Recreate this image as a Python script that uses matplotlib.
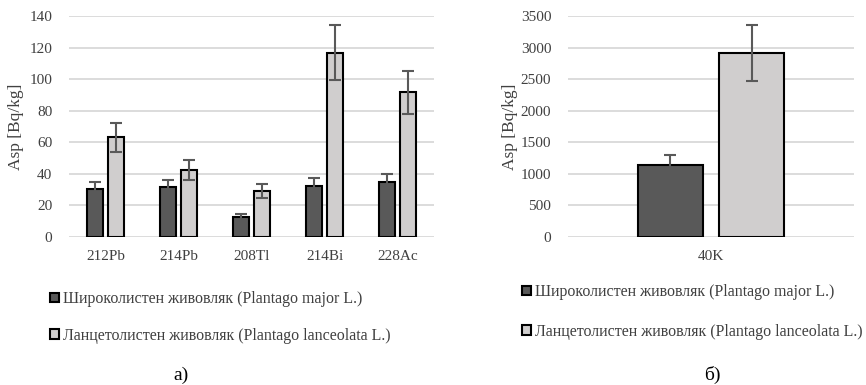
import matplotlib
matplotlib.use('Agg')
import matplotlib.pyplot as plt
import numpy as np
from matplotlib.patches import Patch

plt.rcParams['font.family'] = ['Liberation Serif', 'DejaVu Serif']
plt.rcParams['font.size'] = 11

# activity concentrations, Bq/kg
nuclides = ['212Pb', '214Pb', '208Tl', '214Bi', '228Ac']
major = [30.2, 31.5, 12.9, 32.3, 34.8]
major_err = [4.4, 4.8, 1.9, 4.9, 5.3]
lanceolata = [63.1, 42.4, 29.3, 116.8, 91.6]
lanceolata_err = [9.4, 6.4, 4.4, 17.6, 13.7]

k_label = ['40K']
k_major = [1135]
k_major_err = [165]
k_lanceolata = [2915]
k_lanceolata_err = [440]

names = ['Широколистен живовляк (Plantago major L.)',
         'Ланцетолистен живовляк (Plantago lanceolata L.)']
dark = '#595959'
light = '#d0cece'
grid_c = '#d9d9d9'
err_c = '#595959'
txt_c = '#404040'

width = 0.225
off = 0.142

fig = plt.figure(figsize=(8.66, 3.85), dpi=100)
ax1 = fig.add_axes([69/866, 1 - 237/385, 365/866, 221/385])
ax2 = fig.add_axes([568/866, 1 - 237/385, 286/866, 221/385])


def draw(ax, labels, a, a_err, b, b_err, ymax, step):
    x = np.arange(len(labels))
    ekw = dict(ecolor=err_c, elinewidth=1.5, capsize=4.5, capthick=1.5)
    ax.bar(x - off, a, width, yerr=a_err, color=dark, edgecolor='black',
           linewidth=1.5, error_kw=ekw, zorder=3)
    ax.bar(x + off, b, width, yerr=b_err, color=light, edgecolor='black',
           linewidth=1.5, error_kw=ekw, zorder=3)
    ax.set_xlim(-0.5, len(labels) - 0.5)
    ax.set_ylim(0, ymax)
    ax.set_yticks(np.arange(0, ymax + 1, step))
    ax.set_xticks(x)
    ax.set_xticklabels(labels)
    ax.yaxis.grid(True, color=grid_c, linewidth=1.3, zorder=0)
    ax.set_axisbelow(True)
    for s in ax.spines.values():
        s.set_visible(False)
    ax.tick_params(axis='both', length=0, colors=txt_c)
    ax.tick_params(axis='x', pad=9)
    ax.tick_params(axis='y', pad=12)
    ax.set_ylabel('Asp [Bq/kg]', color=txt_c, fontsize=12.5)


draw(ax1, nuclides, major, major_err, lanceolata, lanceolata_err, 140, 20)
draw(ax2, k_label, k_major, k_major_err, k_lanceolata, k_lanceolata_err, 3500, 500)
ax1.yaxis.set_label_coords(-0.123, 0.5)
ax2.yaxis.set_label_coords(-0.175, 0.5)

handles = [Patch(facecolor=dark, edgecolor='black', linewidth=1.5),
           Patch(facecolor=light, edgecolor='black', linewidth=1.5)]
leg_kw = dict(loc='upper left', frameon=False, borderpad=0, borderaxespad=0,
              handlelength=0.55, handleheight=0.55, handletextpad=0.25,
              fontsize=11.5, labelcolor=txt_c)
fig.legend(handles, names, bbox_to_anchor=(50/866, 1 - 291/385),
           labelspacing=1.3, **leg_kw)
fig.legend(handles, names, bbox_to_anchor=(522/866, 1 - 284/385),
           labelspacing=1.5, **leg_kw)

fig.text(181/866, 1 - 375/385, 'а)', ha='center', va='center', fontsize=14)
fig.text(712/866, 1 - 375/385, 'б)', ha='center', va='center', fontsize=14)

fig.savefig('out.png', dpi=100)
